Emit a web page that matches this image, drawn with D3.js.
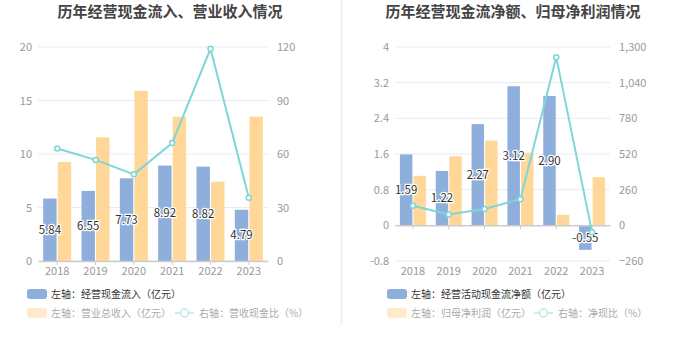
<!DOCTYPE html>
<html>
<head>
<meta charset="utf-8">
<script src="https://cdn.jsdelivr.net/npm/d3@7"></script>
<style>
  body { margin: 0; background: #fff; }
  svg text { font-family: "Microsoft YaHei", "Noto Sans CJK SC", sans-serif; }
</style>
</head>
<body>
<div id="chart"></div>
<script>
// data
var years = ["2018", "2019", "2020", "2021", "2022", "2023"]

var cashIn = [5.84, 6.55, 7.73, 8.92, 8.82, 4.79]        // 经营现金流入
var revenue = [9.25, 11.56, 15.89, 13.49, 7.41, 13.49]   // 营业总收入
var cashRatio = [63.1, 56.7, 48.6, 66.1, 119.0, 35.5]    // 营收现金比

var netCash = [1.59, 1.22, 2.27, 3.12, 2.90, -0.55]      // 经营活动现金流净额
var netProfit = [1.11, 1.55, 1.90, 1.63, 0.236, 1.08]    // 归母净利润
var netRatio = [143, 79, 119, 191, 1226, -51]            // 净现比

var leftTicksA = [0, 5, 10, 15, 20], rightTicksA = [0, 30, 60, 90, 120]
var leftTicksB = [-0.8, 0, 0.8, 1.6, 2.4, 3.2, 4], rightTicksB = [-260, 0, 260, 520, 780, 1040, 1300]

var blue = "#8eaedc", orange = "#ffd899", cyan = "#80d5d8"

var svg = d3.select("#chart").append("svg")
  .attr("width", 680)
  .attr("height", 349)

// divider between the two panels
svg.append("line")
  .attr("x1", 341.5).attr("x2", 341.5)
  .attr("y1", 0).attr("y2", 325)
  .attr("stroke", "#f0f0f0").attr("stroke-width", 2)

function drawPanel(o) {
  var g = svg.append("g")

  g.append("text")
    .attr("x", o.titleX).attr("y", 17)
    .attr("text-anchor", "middle")
    .style("font-size", "15px").style("font-weight", "bold")
    .attr("fill", "#444")
    .text(o.title)

  var x = d3.scaleBand().domain(years).range([o.x0, o.x1])
  var xs = d3.scaleBand().domain(["a", "b"])
    .range([x.bandwidth() / 2 - o.barW - 1, x.bandwidth() / 2 + o.barW + 1])
    .paddingInner(0.08)
  var yL = d3.scaleLinear().domain(d3.extent(o.lt)).range([o.yBot, o.yTop])
  var yR = d3.scaleLinear().domain(d3.extent(o.rt)).range([o.yBot, o.yTop])

  // grid
  g.selectAll(".grid").data(o.lt).enter().append("line")
    .attr("x1", o.x0).attr("x2", o.x1)
    .attr("y1", function(d) { return yL(d) }).attr("y2", function(d) { return yL(d) })
    .attr("stroke", "#e6ebf5").attr("stroke-width", 1)

  // left axis labels
  g.selectAll(".lt").data(o.lt).enter().append("text")
    .attr("x", o.x0 - 6).attr("y", function(d) { return yL(d) + 4 })
    .attr("text-anchor", "end")
    .style("font-size", "11px").attr("fill", "#999")
    .text(function(d) { return d })

  // right axis labels
  g.selectAll(".rt").data(o.rt).enter().append("text")
    .attr("x", o.x1 + 9).attr("y", function(d) { return yR(d) + 4 })
    .attr("text-anchor", "start")
    .style("font-size", "11px").attr("fill", "#999")
    .text(function(d) { return d3.format(",")(d) })

  // bars
  g.selectAll(".b1").data(o.s1).enter().append("rect")
    .attr("x", function(d, i) { return x(years[i]) + xs("a") })
    .attr("width", xs.bandwidth())
    .attr("y", function(d) { return Math.min(yL(d), yL(0)) })
    .attr("height", function(d) { return Math.abs(yL(d) - yL(0)) })
    .attr("fill", blue)

  g.selectAll(".b2").data(o.s2).enter().append("rect")
    .attr("x", function(d, i) { return x(years[i]) + xs("b") })
    .attr("width", xs.bandwidth())
    .attr("y", function(d) { return Math.min(yL(d), yL(0)) })
    .attr("height", function(d) { return Math.abs(yL(d) - yL(0)) })
    .attr("fill", orange)

  // x axis
  var axis = g.append("g").attr("transform", "translate(0," + yL(0) + ")")
    .call(d3.axisBottom(x).tickSize(4).tickSizeOuter(0))
  axis.select(".domain").attr("stroke", "#ccc").attr("stroke-width", 1.5)
  axis.selectAll(".tick line").attr("stroke", "#ccc")
  axis.selectAll(".tick text").remove()

  g.selectAll(".xl").data(years).enter().append("text")
    .attr("x", function(d) { return x(d) + x.bandwidth() / 2 })
    .attr("y", o.xLabelY)
    .attr("text-anchor", "middle")
    .style("font-size", "11px").attr("fill", "#999")
    .text(function(d) { return d })

  // ratio line
  var line = d3.line()
    .x(function(d, i) { return x(years[i]) + x.bandwidth() / 2 })
    .y(function(d) { return yR(d) })
  g.append("path").datum(o.s3)
    .attr("d", line)
    .attr("fill", "none").attr("stroke", cyan).attr("stroke-width", 2)

  // bar value labels
  g.selectAll(".vl").data(o.s1).enter().append("text")
    .attr("x", function(d, i) { return x(years[i]) + xs("a") + xs.bandwidth() / 2 })
    .attr("y", function(d) { return (yL(d) + yL(0)) / 2 + 4 })
    .attr("text-anchor", "middle")
    .style("font-size", "11.5px").attr("fill", "#333")
    .attr("stroke", "#fff").attr("stroke-width", 2.5)
    .style("paint-order", "stroke")
    .text(function(d) { return d.toFixed(2) })

  g.selectAll(".dot").data(o.s3).enter().append("circle")
    .attr("cx", function(d, i) { return x(years[i]) + x.bandwidth() / 2 })
    .attr("cy", function(d) { return yR(d) })
    .attr("r", 2.5)
    .attr("fill", "#fff").attr("stroke", cyan).attr("stroke-width", 1.5)

  // legend
  var lg = g.append("g")
  lg.append("rect").attr("x", o.lgX).attr("y", 289).attr("width", 20).attr("height", 10)
    .attr("rx", 3).attr("fill", blue)
  lg.append("text").attr("x", o.lgX + 24).attr("y", 298)
    .style("font-size", "10px").attr("fill", "#333").text(o.leg1)

  lg.append("rect").attr("x", o.lgX).attr("y", 308).attr("width", 20).attr("height", 10)
    .attr("rx", 3).attr("fill", "#ffeacb")
  lg.append("text").attr("x", o.lgX + 24).attr("y", 317)
    .style("font-size", "10px").attr("fill", "#aaa").text(o.leg2)

  lg.append("line").attr("x1", o.lg3X).attr("x2", o.lg3X + 19)
    .attr("y1", 313).attr("y2", 313)
    .attr("stroke", "#bfe9eb").attr("stroke-width", 1.5)
  lg.append("circle").attr("cx", o.lg3X + 9.5).attr("cy", 313).attr("r", 4)
    .attr("fill", "#fff").attr("stroke", "#bfe9eb").attr("stroke-width", 1.5)
  lg.append("text").attr("x", o.lg3X + 24).attr("y", 317)
    .style("font-size", "10px").attr("fill", "#aaa").text(o.leg3)
}

drawPanel({
  title: "历年经营现金流入、营业收入情况", titleX: 170,
  x0: 38, x1: 268, yTop: 47, yBot: 261, xLabelY: 275, barW: 13,
  lt: leftTicksA, rt: rightTicksA,
  s1: cashIn, s2: revenue, s3: cashRatio,
  lgX: 27, lg3X: 175,
  leg1: "左轴：经营现金流入（亿元）", leg2: "左轴：营业总收入（亿元）", leg3: "右轴：营收现金比（%）"
})

drawPanel({
  title: "历年经营现金流净额、归母净利润情况", titleX: 513,
  x0: 395, x1: 610, yTop: 47, yBot: 261, xLabelY: 275, barW: 12,
  lt: leftTicksB, rt: rightTicksB,
  s1: netCash, s2: netProfit, s3: netRatio,
  lgX: 387, lg3X: 534,
  leg1: "左轴：经营活动现金流净额（亿元）", leg2: "左轴：归母净利润（亿元）", leg3: "右轴：净现比（%）"
})
</script>
</body>
</html>
